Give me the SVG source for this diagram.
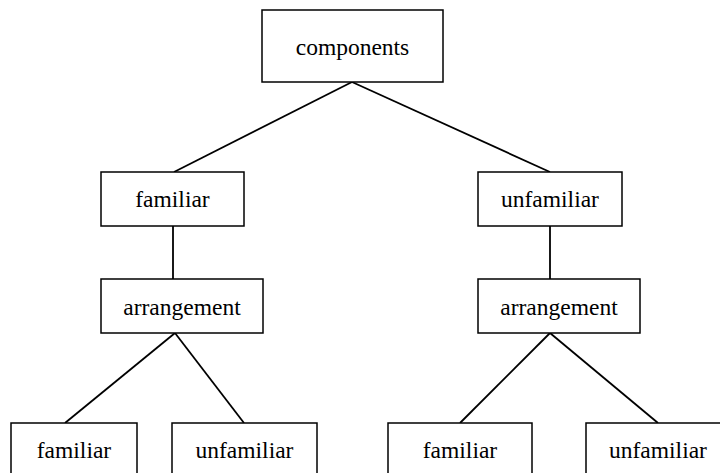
<svg xmlns="http://www.w3.org/2000/svg" width="720" height="473" viewBox="0 0 720 473">
<style>
.box{fill:#fff;stroke:#000;stroke-width:1.5}
text{font-family:'Liberation Serif','DejaVu Serif',serif;font-size:23.5px;text-anchor:middle;fill:#000}
.edge{stroke:#000;stroke-width:1.8;fill:none}
</style>
<rect width="720" height="473" fill="#fff"/>
<g id="connectors">
<line class="edge" x1="352" y1="82" x2="174" y2="172"/>
<line class="edge" x1="352" y1="82" x2="550" y2="172"/>
<line class="edge" x1="173" y1="226" x2="173" y2="279"/>
<line class="edge" x1="550" y1="226" x2="550" y2="279"/>
<line class="edge" x1="175" y1="333" x2="65" y2="423"/>
<line class="edge" x1="175" y1="333" x2="244" y2="423"/>
<line class="edge" x1="550" y1="333" x2="460" y2="423"/>
<line class="edge" x1="550" y1="333" x2="658" y2="423"/>
</g>
<g id="components"><rect class="box" x="262" y="10" width="181" height="72"/><text font-family="Liberation Serif" x="352.5" y="55">components</text></g>
<g id="familiar1"><rect class="box" x="101" y="172" width="143" height="54"/><text font-family="Liberation Serif" x="172.5" y="207">familiar</text></g>
<g id="unfamiliar1"><rect class="box" x="478" y="172" width="144" height="54"/><text font-family="Liberation Serif" x="550" y="207">unfamiliar</text></g>
<g id="arrangement1"><rect class="box" x="101" y="279" width="162" height="54"/><text font-family="Liberation Serif" x="182" y="315">arrangement</text></g>
<g id="arrangement2"><rect class="box" x="478" y="279" width="162" height="54"/><text font-family="Liberation Serif" x="559" y="315">arrangement</text></g>
<g id="familiar2"><rect class="box" x="11" y="423" width="126" height="54"/><text font-family="Liberation Serif" x="74" y="458">familiar</text></g>
<g id="unfamiliar2"><rect class="box" x="172" y="423" width="145" height="54"/><text font-family="Liberation Serif" x="244.5" y="458">unfamiliar</text></g>
<g id="familiar3"><rect class="box" x="388" y="423" width="144" height="54"/><text font-family="Liberation Serif" x="460" y="458">familiar</text></g>
<g id="unfamiliar3"><rect class="box" x="586" y="423" width="144" height="54"/><text font-family="Liberation Serif" x="658" y="458">unfamiliar</text></g>
</svg>
